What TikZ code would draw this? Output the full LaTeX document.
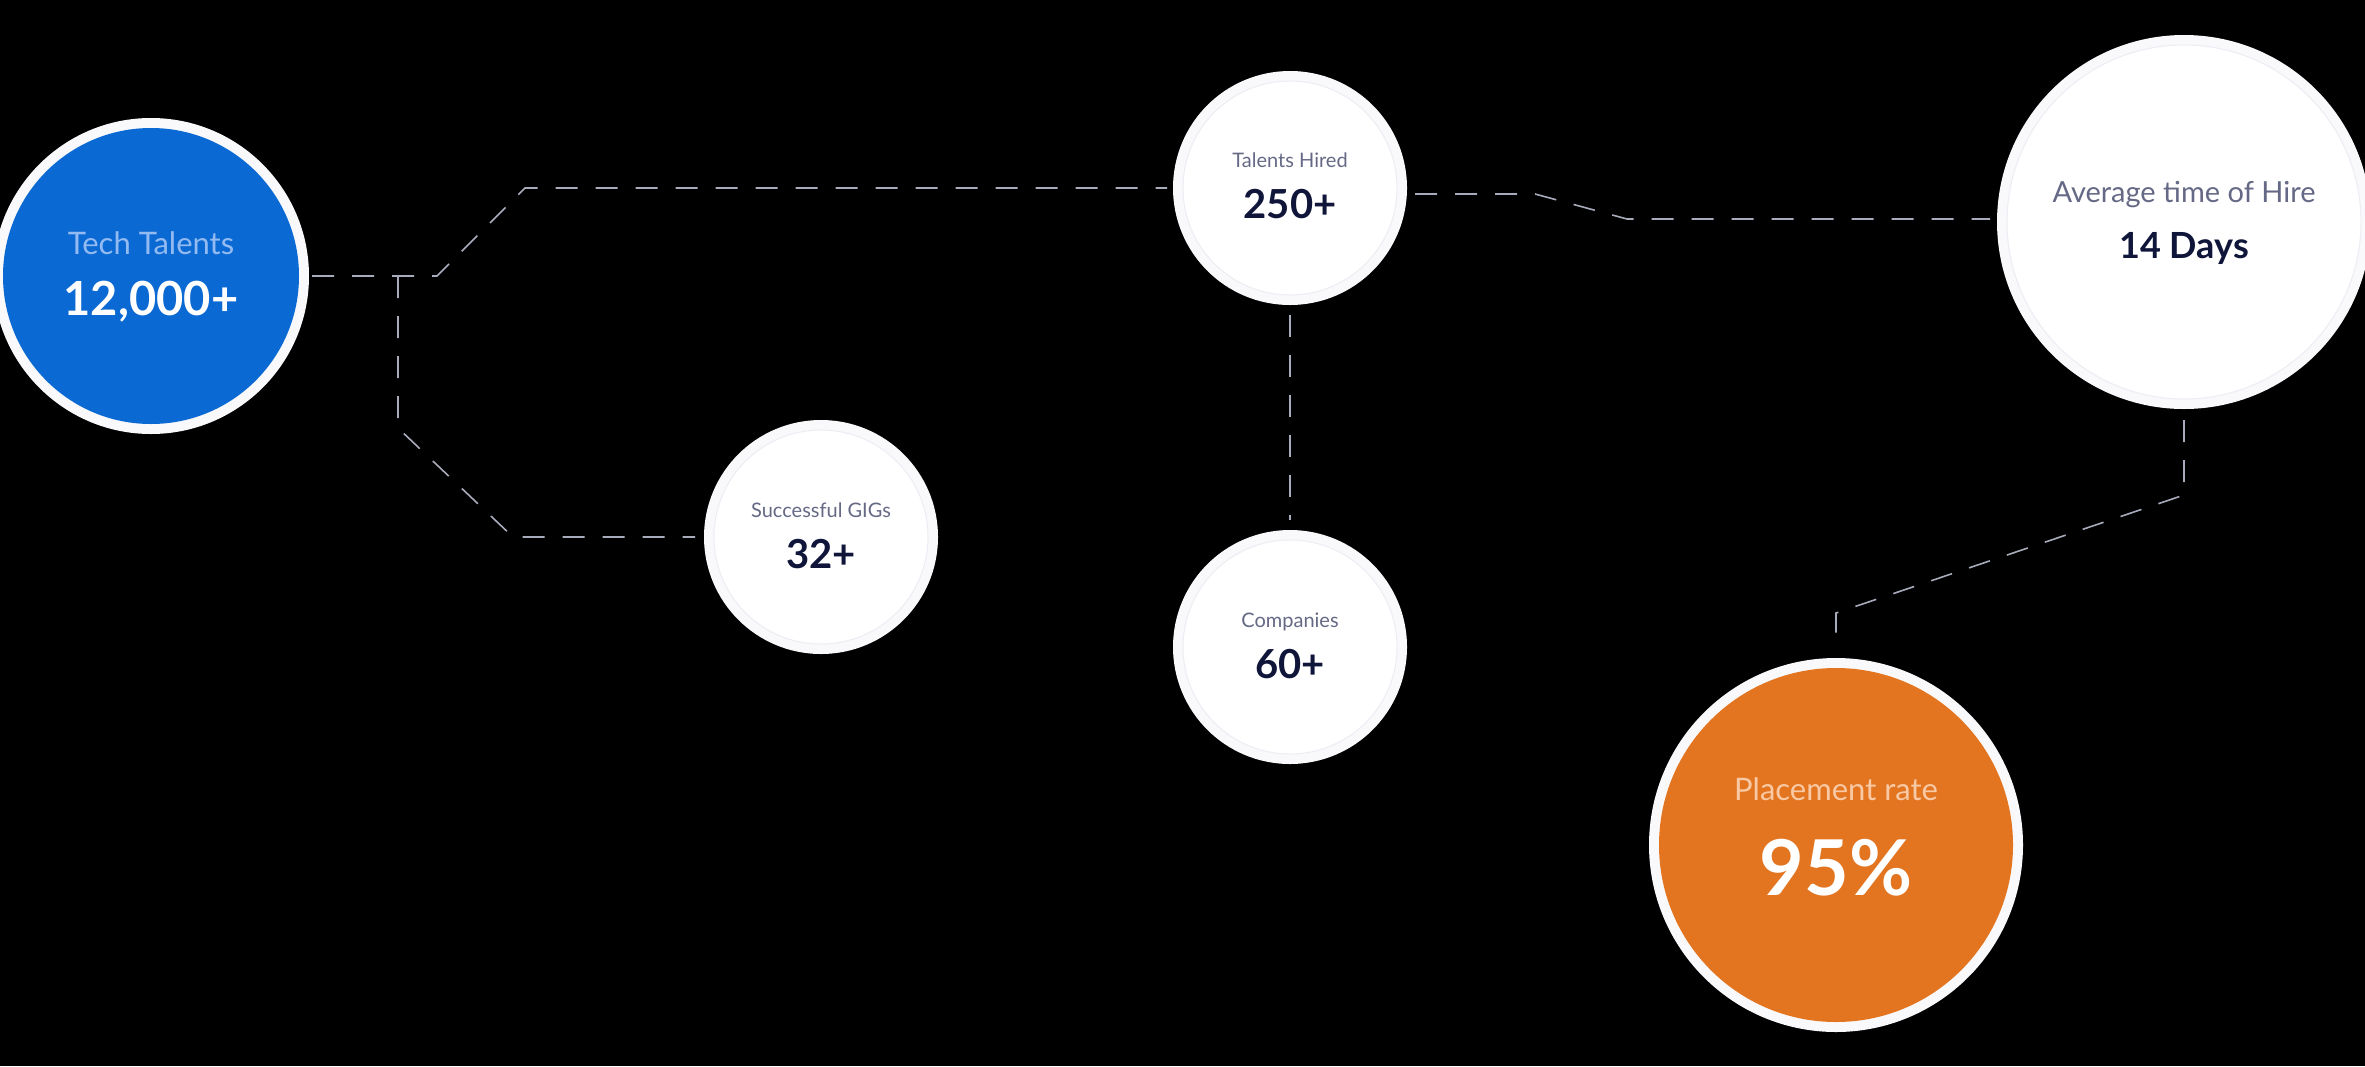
\documentclass[tikz,border=0pt]{standalone}
\usepackage{fontspec}
\setmainfont{Lato}
\usetikzlibrary{calc}
\definecolor{techblue}{HTML}{0B69D3}
\definecolor{placeorange}{HTML}{E37520}
\definecolor{techlbl}{HTML}{93BBF1}
\definecolor{placelbl}{HTML}{F8C9A4}
\definecolor{lblgray}{HTML}{656985}
\definecolor{numnavy}{HTML}{10153A}
\definecolor{ringgray}{HTML}{ECEDF4}
\definecolor{glowwhite}{HTML}{F9F9FB}
\definecolor{linegray}{HTML}{A8ABBC}
\tikzset{
  disc/.style={circle, inner sep=0pt, outer sep=0pt, minimum size=#1},
  whitedisc/.style={disc=#1, fill=white, draw=ringgray, line width=1pt},
  conn/.style={draw=linegray, line width=1.6pt, dash pattern=on 22pt off 18pt},
  txt/.style={anchor=base, inner sep=0pt},
}
\newcommand\glowring[2]{%
  \fill[glowwhite] (#1) circle[radius={(#2+10)*1pt}];
}
\begin{document}
\begin{tikzpicture}[x=1pt, y=-1pt]
  \fill[black] (0,0) rectangle (2365,1066);
  \useasboundingbox (0,0) rectangle (2365,1066);

  % bend points
  \coordinate (jt) at (398,276);
  \coordinate (a1) at (437,276);
  \coordinate (a2) at (525,188);
  \coordinate (b1) at (398,428);
  \coordinate (b2) at (513,537);
  \coordinate (c1) at (1535,194);
  \coordinate (c2) at (1627,219);
  \coordinate (d1) at (2184,495);
  \coordinate (d2) at (1836,613);

  % glows
  \glowring{151,276}{148}
  \glowring{1290,188}{107}
  \glowring{821,537}{107}
  \glowring{1290,647}{107}
  \glowring{2184,222}{177}
  \glowring{1836,845}{177}

  % circles
  \node[disc=296pt, fill=techblue] (tech) at (151,276) {};
  \node[whitedisc=214pt] (hired) at (1290,188) {};
  \node[whitedisc=214pt] (gigs) at (821,537) {};
  \node[whitedisc=214pt] (comp) at (1290,647) {};
  \node[whitedisc=354pt] (avg) at (2184,222) {};
  \node[disc=354pt, fill=placeorange] (place) at (1836,845) {};

  % connectors
  \draw[conn, shorten <=13pt, shorten >=16pt] (tech.east |- a1) -- (a1) -- (a2) -- (hired.west |- a2);
  \draw[conn, shorten >=19pt] (jt) -- (b1) -- (b2) -- (gigs.west |- b2);
  \draw[conn, shorten <=18pt, shorten >=17pt] (hired.east |- c1) -- (c1) -- (c2) -- (avg.west |- c2);
  \draw[conn, shorten <=20pt, shorten >=20pt] (hired.south) -- (comp.north);
  \draw[conn, shorten <=21pt, shorten >=21pt] (avg.south) -- (d1) -- (d2) -- (place.north);

  % texts
  \node[txt, text=techlbl, font=\fontsize{31}{36}\selectfont] (techL) at (151,254) {Tech Talents};
  \node[txt, text=white, font=\fontsize{47}{54}\selectfont\bfseries] (techV) at (151,315) {12,000+};

  \node[txt, text=lblgray, font=\fontsize{20}{24}\selectfont] (hiredL) at (1290,167) {Talents Hired};
  \node[txt, text=numnavy, font=\fontsize{40}{46}\selectfont\bfseries] (hiredV) at (1290,218) {250+};

  \node[txt, text=lblgray, font=\fontsize{20}{24}\selectfont] (gigsL) at (821,517) {Successful GIGs};
  \node[txt, text=numnavy, font=\fontsize{40}{46}\selectfont\bfseries] (gigsV) at (821,568) {32+};

  \node[txt, text=lblgray, font=\fontsize{20}{24}\selectfont] (compL) at (1290,627) {Companies};
  \node[txt, text=numnavy, font=\fontsize{40}{46}\selectfont\bfseries] (compV) at (1290,678) {60+};

  \node[txt, text=lblgray, font=\fontsize{29}{34}\selectfont] (avgL) at (2184,202) {Average time of Hire};
  \node[txt, text=numnavy, font=\fontsize{36}{42}\selectfont\bfseries] (avgV) at (2184,258) {14 Days};

  \node[txt, text=placelbl, font=\fontsize{31}{36}\selectfont] (placeL) at (1836,800) {Placement rate};
  \node[txt, text=white, font=\fontsize{77}{88}\selectfont\bfseries] (placeV) at (1836,895) {95\%};
\end{tikzpicture}
\end{document}
